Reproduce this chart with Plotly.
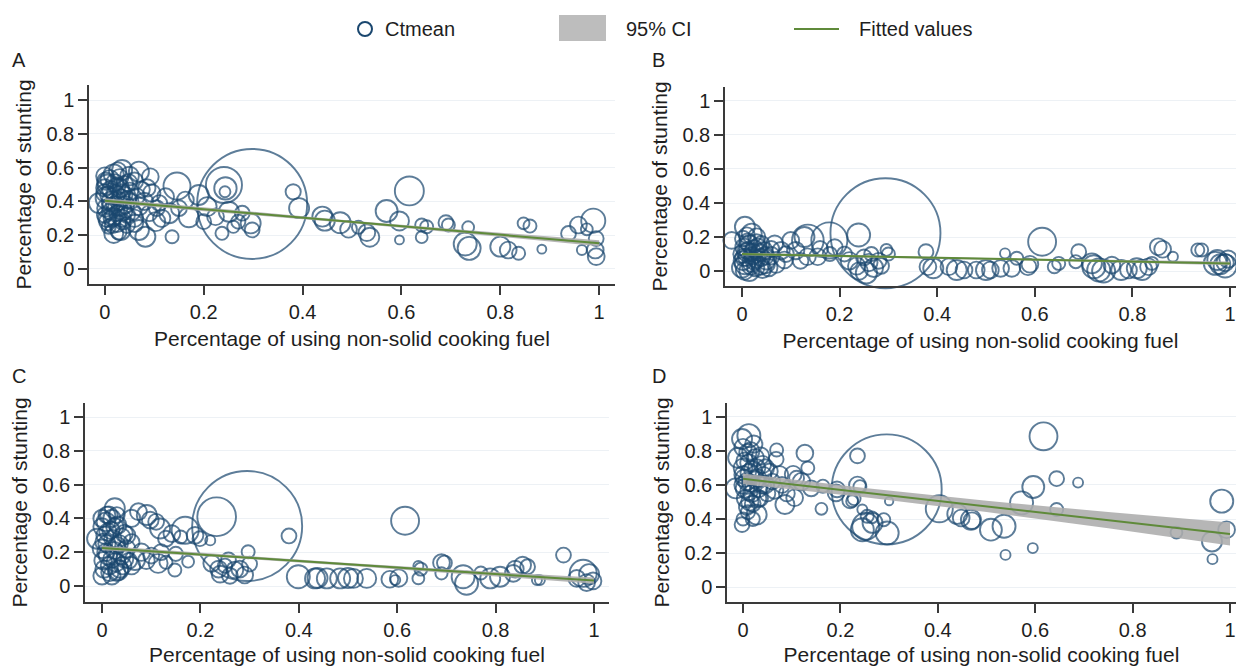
import plotly.graph_objects as go

W, H = 1236, 666

# ---------------- data ----------------
tick_vals = [0, 0.2, 0.4, 0.6, 0.8, 1]
tick_text = ["0", "0.2", "0.4", "0.6", "0.8", "1"]
panel_labels = ["A", "B", "C", "D"]
x_title = "Percentage of using non-solid cooking fuel"
y_title = "Percentage of stunting"
legend_labels = ["Ctmean", "95% CI", "Fitted values"]

# Panel A
A_x = [0.298, 0.241, 0.244, 0.243, 0.381, 0.393, 0.44,
       0.616, 0.570, 0.596, 0.596, 0.641, 0.641, 0.690, 0.695, 0.735, 0.729, 0.737, 0.80, 0.816,
       0.837, 0.847, 0.86, 0.884, 0.988, 0.958, 0.938, 0.975, 0.994, 0.992, 0.994, 0.965, 0.445,
       0.476, 0.493, 0.53, 0.536, 0.513, 0.651,
       0.146, 0.123, 0.092, 0.069, 0.035, 0.163, 0.19, 0.207, 0.17, 0.136, 0.13, 0.103, 0.069,
       0.082, 0.032, 0.018, 0.237, 0.224, 0.251, 0.278, 0.295, 0.298, 0.20, 0.085, 0.105, 0.06,
       0.15, 0.27, 0.26,
       -0.012, 0.0, 0.005, 0.0, 0.004, 0.002, 0.0, 0.006, 0.01, 0.012, 0.014, 0.01, 0.015, 0.018,
       0.02, 0.022, 0.02, 0.025, 0.025, 0.03, 0.03, 0.032, 0.03, 0.035, 0.04, 0.04, 0.042, 0.045,
       0.05, 0.05, 0.052, 0.055, 0.06, 0.065, 0.07, 0.075, 0.08, 0.09, 0.095, 0.11, 0.115, 0.008,
       0.028, 0.045, 0.06,
       0.0, 0.008, 0.012, 0.018, 0.024, 0.028, 0.034, 0.038, 0.046, 0.004, 0.016, 0.036, 0.002,
       0.026, 0.048]
A_y = [0.385, 0.497, 0.477, 0.457, 0.457, 0.36, 0.31,
       0.462, 0.343, 0.284, 0.172, 0.26, 0.188, 0.274, 0.26, 0.247, 0.148, 0.122, 0.132, 0.112,
       0.093, 0.27, 0.254, 0.117, 0.286, 0.26, 0.21, 0.235, 0.18, 0.112, 0.073, 0.112, 0.286,
       0.274, 0.235, 0.215, 0.188, 0.247, 0.25,
       0.491, 0.428, 0.546, 0.576, 0.586, 0.408, 0.438, 0.369, 0.306, 0.191, 0.33, 0.28, 0.231,
       0.191, 0.231, 0.21, 0.211, 0.309, 0.339, 0.33, 0.27, 0.231, 0.28, 0.48, 0.36, 0.3,
       0.36, 0.28, 0.25,
       0.39, 0.55, 0.50, 0.45, 0.42, 0.36, 0.32, 0.28, 0.53, 0.47, 0.40, 0.34, 0.30, 0.56,
       0.51, 0.44, 0.38, 0.33, 0.27, 0.54, 0.48, 0.42, 0.36, 0.30, 0.50, 0.44, 0.38, 0.32,
       0.55, 0.46, 0.40, 0.34, 0.52, 0.43, 0.37, 0.47, 0.40, 0.33, 0.45, 0.39, 0.30, 0.25,
       0.22, 0.26, 0.27,
       0.48, 0.44, 0.37, 0.31, 0.49, 0.40, 0.45, 0.34, 0.41, 0.30, 0.26, 0.28, 0.52,
       0.58, 0.51]
A_w = [121, 13, 5, 1.2, 2.3, 4, 4,
       8.4, 4.8, 3.6, 0.8, 1.7, 1.4, 2.2, 1.7, 1.4, 5.3, 5.3, 4, 2.8,
       1.7, 1.4, 1.7, 0.8, 5.8, 2.8, 2.2, 1.4, 2.2, 2.8, 2.8, 1, 4,
       4.4, 2.8, 2.8, 3.6, 1.7, 1.7,
       7.3, 2.8, 2.8, 4, 4, 2.8, 4, 3.6, 4, 1.7, 4, 3.6, 4,
       4, 4, 3.6, 1.7, 2.8, 4, 2.2, 4, 2.2, 2.2, 3, 2.5, 3,
       2.5, 2, 1.5,
       4, 3, 4, 3, 5, 3, 2.5, 3, 3.5, 3, 4, 2.5, 3, 4,
       3, 3.5, 3, 2.5, 3, 3, 3.5, 3, 2.5, 3, 3, 2.5, 3, 2.5,
       3.5, 3, 2.5, 3, 3, 2.5, 3, 2.5, 3, 2.5, 3, 2.5, 3, 2,
       2.5, 2.5, 3,
       3, 3, 3, 3, 3, 3, 3, 3, 3, 3, 2.5, 2.5, 3,
       3, 3]

# Panel B
B_x = [0.294, 0.239, 0.135, 0.179, 0.377, 0.381, 0.424, 0.296, 0.30,
       0.21, 0.22, 0.235, 0.25, 0.26, 0.27, 0.28, 0.24, 0.265, 0.255, 0.285,
       0.615, 0.69, 0.539, 0.64, 0.853, 0.883, 0.934, 0.974, 0.98, 0.99, 0.455, 0.48, 0.509,
       0.553, 0.586, 0.563, 0.684, 0.721, 0.731, 0.758, 0.792, 0.82, 0.84, 0.392, 0.44, 0.50,
       0.53, 0.59, 0.649, 0.717, 0.741, 0.777, 0.809, 0.833, 0.862, 0.942, 0.97, 0.99, 0.996,
       0.006, -0.021, 0.067, 0.10, 0.128, 0.134, 0.155, 0.047, 0.087, 0.02, 0.03, 0.04, 0.08,
       0.11, 0.12, 0.16, 0.18, 0.19, 0.06, 0.09,
       0.0, 0.002, 0.0, 0.004, 0.006, 0.01, 0.012, 0.015, 0.015, 0.02, 0.022, 0.025, 0.028,
       0.03, 0.035, 0.038, 0.04, 0.045, 0.05, 0.055, 0.002, 0.01, 0.03, 0.06, 0.07,
       0.005, 0.008, 0.018, 0.025, 0.032, 0.042, 0.048, 0.012, 0.004, 0.022]
B_y = [0.222, 0.212, 0.18, 0.18, 0.114, 0.025, 0.025, 0.124, 0.10,
       0.10, 0.06, 0.03, 0.08, 0.05, 0.02, 0.06, 0.0, 0.10, -0.01, 0.03,
       0.172, 0.114, 0.104, 0.025, 0.143, 0.084, 0.124, 0.065, 0.04, 0.05, 0.006, 0.006, 0.006,
       0.016, 0.025, 0.075, 0.055, 0.025, 0.006, 0.035, 0.006, 0.006, 0.045, 0.016, 0.006, 0.006,
       0.016, 0.04, 0.045, 0.045, 0.0, 0.006, 0.016, 0.025, 0.128, 0.124, 0.045, 0.03, 0.07,
       0.26, 0.18, 0.16, 0.18, 0.2, 0.084, 0.084, 0.045, 0.065, 0.22, 0.20, 0.16, 0.12,
       0.12, 0.06, 0.13, 0.10, 0.14, 0.09, 0.10,
       0.02, 0.06, 0.10, 0.14, 0.04, 0.08, 0.12, 0.16, 0.0, 0.05, 0.09, 0.13, 0.02,
       0.07, 0.11, 0.03, 0.08, 0.12, 0.06, 0.02, 0.19, 0.21, 0.17, 0.13, 0.04,
       0.0, 0.11, 0.03, 0.06, 0.14, 0.01, 0.09, 0.17, 0.08, 0.11]
B_w = [121, 5.3, 10, 13, 2.2, 2.8, 2.8, 1.4, 1.7,
       2.2, 3, 3, 2.5, 3, 3.5, 2.5, 3, 2, 4.5, 2.5,
       7.8, 2.2, 1, 1.7, 2.8, 1, 1.7, 4, 4, 3, 2.8, 2.8, 2.8,
       2.8, 2.8, 1.7, 1.7, 5.3, 5.3, 2.8, 2.8, 4, 1.7, 4, 4, 4,
       2.8, 2.8, 1.7, 4, 5.3, 4, 4, 2.8, 2.8, 1.7, 5.3, 5.3, 3,
       4, 2.8, 2.8, 2.8, 4, 2.8, 2.8, 4, 2.8, 4, 3, 2.5, 3,
       3, 2.5, 2.5, 2, 2.5, 3, 2.5,
       4, 3.5, 3, 3, 4, 3, 3, 3, 4, 3.5, 3, 3, 3,
       3, 3, 3, 3, 3, 3, 3, 2.5, 2.5, 2.5, 2.5, 3,
       3, 3, 3, 3, 3, 3, 3, 3, 3, 3]

# Panel C
C_x = [0.295, 0.233, 0.38, 0.399, 0.433,
       0.223, 0.237, 0.257, 0.27, 0.28, 0.297, 0.30, 0.29, 0.24, 0.25, 0.26,
       0.026, 0.01, 0.074, 0.091, 0.098, 0.118, 0.142, 0.169, 0.16, 0.189, 0.199, 0.22, 0.06,
       0.11, 0.13, 0.05,
       0.067, 0.09, 0.114, 0.13, 0.148, 0.175, 0.033, 0.08, 0.10, 0.12, 0.15, 0.06,
       -0.01, 0.0, 0.0, 0.002, 0.004, 0.006, 0.008, 0.01, 0.012, 0.015, 0.018, 0.02, 0.022,
       0.025, 0.028, 0.03, 0.032, 0.035, 0.04, 0.042, 0.045, 0.05, 0.055, 0.06, 0.0, 0.02, 0.03,
       0.616, 0.938, 0.69, 0.643, 0.643, 0.855, 0.884, 0.836, 0.809, 0.789, 0.734, 0.741, 0.77,
       0.978, 0.99, 0.965, 0.985, 0.998, 0.457, 0.484, 0.511, 0.538, 0.585, 0.596, 0.438, 0.50,
       0.603, 0.648, 0.696, 0.69, 0.84, 0.865, 0.89,
       0.004, 0.008, 0.012, 0.016, 0.02, 0.026, 0.03, 0.036, 0.04, 0.046, 0.0, 0.014]
C_y = [0.355, 0.41, 0.296, 0.055, 0.045,
       0.134, 0.10, 0.154, 0.095, 0.10, 0.203, 0.13, 0.065, 0.07, 0.12, 0.06,
       0.46, 0.42, 0.44, 0.42, 0.39, 0.34, 0.31, 0.33, 0.29, 0.30, 0.28, 0.27, 0.40,
       0.38, 0.28, 0.30,
       0.154, 0.15, 0.134, 0.14, 0.095, 0.144, 0.095, 0.2, 0.18, 0.2, 0.19, 0.12,
       0.28, 0.35, 0.22, 0.15, 0.10, 0.30, 0.38, 0.25, 0.18, 0.12, 0.33, 0.40, 0.28,
       0.21, 0.14, 0.08, 0.36, 0.25, 0.18, 0.12, 0.31, 0.22, 0.15, 0.26, 0.06, 0.06, 0.42,
       0.386, 0.183, 0.138, 0.118, 0.045, 0.124, 0.035, 0.075, 0.055, 0.045, 0.055, 0.016, 0.077,
       0.075, 0.07, 0.045, 0.02, 0.03, 0.045, 0.045, 0.045, 0.045, 0.04, 0.035, 0.047, 0.047,
       0.047, 0.10, 0.136, 0.075, 0.10, 0.114, 0.035,
       0.26, 0.20, 0.32, 0.08, 0.16, 0.35, 0.24, 0.10, 0.29, 0.16, 0.40, 0.42]
C_w = [121, 15, 2.2, 5.3, 4,
       2.8, 2.8, 2.2, 2.8, 2.8, 1.7, 2.2, 2.8, 2.8, 2, 2.5,
       4, 2.8, 2.8, 4, 2.8, 4, 2.8, 7.3, 1.7, 2.8, 2.2, 1, 3,
       2.5, 2.5, 3,
       4, 2.8, 3.6, 1.7, 1.7, 1.4, 4, 3, 2.5, 2.5, 2, 3,
       4, 3, 3.5, 3, 3, 3, 3.5, 3, 3.5, 3, 3, 3, 3,
       3, 3.5, 3, 3, 3, 3, 3, 3, 3, 2.5, 2.5, 3, 3, 2.5,
       7.8, 2.2, 2.8, 1, 1.4, 2.8, 1, 2.8, 4, 4, 5.3, 5.3, 1.7,
       7.3, 4, 2.8, 2.8, 2.8, 4, 4, 3.6, 3.6, 2.8, 1, 4, 4,
       3, 1.7, 2.2, 1.5, 2.8, 2.2, 1,
       3, 3, 3, 3, 3, 3, 3, 3, 3, 3, 3, 3]

# Panel D
D_x = [0.295, 0.235, 0.235, 0.24, 0.224, 0.228, 0.245, 0.255, 0.265, 0.252, 0.266, 0.245,
       0.296, 0.289, 0.30,
       0.403, 0.164, 0.161, 0.191, 0.127, 0.133, 0.069, 0.068, 0.103, 0.11, 0.086, 0.106,
       0.028, -0.002, 0.0, 0.012, -0.002,
       -0.01, 0.0, 0.0, 0.002, 0.004, 0.005, 0.008, 0.01, 0.012, 0.014, 0.016, 0.018, 0.02,
       0.022, 0.025, 0.028, 0.03, 0.032, 0.035, 0.04, 0.042, 0.045, 0.05, 0.055, 0.06, 0.065,
       0.075, 0.08, 0.09, 0.12, 0.14, 0.01, 0.02, 0.0, -0.015, 0.193, 0.22,
       0.617, 0.596, 0.572, 0.644, 0.688, 0.644, 0.595, 0.539, 0.468, 0.448, 0.509, 0.536,
       0.983, 0.963, 0.964, 0.993, 0.89, 0.44, 0.47,
       0.004, 0.008, 0.012, 0.016, 0.02, 0.026, 0.03, 0.036, 0.04, 0.046, 0.0, 0.014]
D_y = [0.574, 0.771, 0.6, 0.59, 0.505, 0.52, 0.456, 0.416, 0.41, 0.357, 0.377, 0.337,
       0.318, 0.396, 0.505,
       0.46, 0.593, 0.46, 0.554, 0.787, 0.70, 0.806, 0.751, 0.663, 0.64, 0.485, 0.525,
       0.426, 0.367, 0.40, 0.89, 0.87,
       0.76, 0.82, 0.70, 0.64, 0.58, 0.52, 0.47, 0.79, 0.73, 0.67, 0.61, 0.55, 0.49,
       0.84, 0.76, 0.70, 0.64, 0.58, 0.52, 0.72, 0.66, 0.60, 0.55, 0.68, 0.62, 0.57,
       0.66, 0.60, 0.55, 0.62, 0.58, 0.44, 0.40, 0.60, 0.58, 0.574, 0.51,
       0.886, 0.588, 0.495, 0.637, 0.614, 0.456, 0.229, 0.189, 0.396, 0.406, 0.337, 0.357,
       0.505, 0.268, 0.164, 0.337, 0.32, 0.43, 0.39,
       0.74, 0.62, 0.56, 0.80, 0.69, 0.63, 0.52, 0.77, 0.60, 0.70, 0.66, 0.50]
D_w = [121, 2.2, 2.8, 1.7, 1.4, 1.7, 1, 1.7, 1.4, 7.3, 4, 5.3,
       5.3, 1.7, 0.7,
       7.3, 1.7, 1.4, 2.8, 2.8, 1.7, 1.7, 2.2, 2.8, 2.2, 3.6, 2.8,
       4, 2.2, 1.7, 5.3, 4,
       4, 3, 3.5, 3, 3.5, 3, 2.5, 3, 3, 3.5, 3, 3, 2.5,
       3, 3, 3, 3, 3, 2.5, 3, 2.5, 3, 2.5, 2.5, 2.5, 3,
       3, 2.5, 2.5, 3, 2.5, 2, 2, 3, 4, 2.5, 2.5,
       7.8, 4.8, 5.3, 2.2, 1, 1.7, 1, 1, 4, 2.8, 4.8, 5.3,
       5.3, 4, 1, 2.8, 1.4, 4, 2.8,
       3, 3, 3, 3, 3, 3, 3, 3, 3, 3, 3, 3]

# Fitted values and 95% CI
fit_x = [0, 0.25, 0.5, 0.75, 1]
A_fit = [0.404, 0.341, 0.278, 0.215, 0.152]
A_lo = [0.390, 0.332, 0.270, 0.204, 0.134]
A_hi = [0.418, 0.350, 0.286, 0.226, 0.170]
B_fit = [0.100, 0.086, 0.072, 0.059, 0.045]
B_lo = [0.092, 0.081, 0.067, 0.052, 0.034]
B_hi = [0.108, 0.091, 0.077, 0.066, 0.056]
C_fit = [0.225, 0.177, 0.128, 0.080, 0.032]
C_lo = [0.212, 0.169, 0.120, 0.069, 0.014]
C_hi = [0.238, 0.185, 0.136, 0.091, 0.050]
D_fit = [0.636, 0.555, 0.474, 0.393, 0.312]
D_lo = [0.604, 0.528, 0.441, 0.345, 0.244]
D_hi = [0.668, 0.582, 0.507, 0.441, 0.380]

# ---------------- styles / layout ----------------
NAVY = "#1a476f"
GREEN = "#5f8a3a"
CI_FILL = "rgba(172,172,172,0.88)"
CI_LEG = "#bdbdbd"
AXC = "#3a3a3a"
TXT = "#1e1e1e"
FONT = "Liberation Sans, Arial, sans-serif"
FS = 20
FS_TITLE = 21

panels = [
    dict(x=A_x, y=A_y, w=A_w, fit=A_fit, lo=A_lo, hi=A_hi,
         xd=[89 / W, 615 / W], yd=[1 - 284 / H, 1 - 85 / H],
         xr=[-0.032, 1.032], yr=[-0.089, 1.089], lab=(10, 60)),
    dict(x=B_x, y=B_y, w=B_w, fit=B_fit, lo=B_lo, hi=B_hi,
         xd=[725 / W, 1.0], yd=[1 - 286 / H, 1 - 87 / H],
         xr=[-0.0348, 1.0123], yr=[-0.088, 1.082], lab=(650, 60)),
    dict(x=C_x, y=C_y, w=C_w, fit=C_fit, lo=C_lo, hi=C_hi,
         xd=[85 / W, 609 / W], yd=[1 - 602 / H, 1 - 403 / H],
         xr=[-0.0346, 1.0305], yr=[-0.0947, 1.083], lab=(10, 376)),
    dict(x=D_x, y=D_y, w=D_w, fit=D_fit, lo=D_lo, hi=D_hi,
         xd=[727 / W, 1.0], yd=[1 - 602 / H, 1 - 403 / H],
         xr=[-0.0329, 1.0123], yr=[-0.088, 1.082], lab=(650, 376)),
]

fig = go.Figure()
layout = dict(
    width=W, height=H, margin=dict(l=0, r=0, t=0, b=0),
    paper_bgcolor="white", plot_bgcolor="white",
    showlegend=False, font=dict(family=FONT, size=FS, color=TXT),
)
annotations = []
shapes = []

for i, p in enumerate(panels):
    n = "" if i == 0 else str(i + 1)
    xa, ya = "x" + n, "y" + n
    fig.add_trace(go.Scatter(
        x=p["x"], y=p["y"], mode="markers", xaxis=xa, yaxis=ya,
        name=legend_labels[0], cliponaxis=False,
        marker=dict(size=p["w"], sizemode="area", sizeref=0.02,
                    color="rgba(0,0,0,0)", line=dict(color=NAVY, width=1.9)),
    ))
    fig.add_trace(go.Scatter(
        x=fit_x, y=p["lo"], mode="lines", xaxis=xa, yaxis=ya,
        line=dict(width=0, color=CI_FILL), hoverinfo="skip",
    ))
    fig.add_trace(go.Scatter(
        x=fit_x, y=p["hi"], mode="lines", xaxis=xa, yaxis=ya, name=legend_labels[1],
        line=dict(width=0, color=CI_FILL), fill="tonexty", fillcolor=CI_FILL,
    ))
    fig.add_trace(go.Scatter(
        x=fit_x, y=p["fit"], mode="lines", xaxis=xa, yaxis=ya, name=legend_labels[2],
        line=dict(width=2, color=GREEN),
    ))
    common = dict(showline=True, linecolor=AXC, linewidth=1.5, ticks="outside",
                  ticklen=9, tickwidth=1.5, tickcolor=AXC, zeroline=False,
                  tickvals=tick_vals, ticktext=tick_text,
                  tickfont=dict(family=FONT, size=FS, color=TXT))
    layout["xaxis" + n] = dict(
        common, domain=p["xd"], range=p["xr"], anchor=ya, showgrid=False,
        title=dict(text=x_title, standoff=10, font=dict(family=FONT, size=FS_TITLE, color=TXT)),
    )
    layout["yaxis" + n] = dict(
        common, domain=p["yd"], range=p["yr"], anchor=xa, showgrid=True,
        gridcolor="#edf1f5", gridwidth=1,
        title=dict(text=y_title, standoff=9, font=dict(family=FONT, size=FS_TITLE, color=TXT)),
    )
    annotations.append(dict(
        text=panel_labels[i], x=p["lab"][0] / W, y=1 - p["lab"][1] / H,
        xref="paper", yref="paper", xanchor="left", yanchor="middle",
        showarrow=False, font=dict(family=FONT, size=FS, color=TXT),
    ))

# legend (drawn in paper space)
def px(x):
    return x / W

def py(y):
    return 1 - y / H

shapes.append(dict(type="circle", xref="paper", yref="paper",
                   x0=px(358), x1=px(372), y0=py(36), y1=py(22),
                   line=dict(color=NAVY, width=2), fillcolor="rgba(0,0,0,0)"))
shapes.append(dict(type="rect", xref="paper", yref="paper",
                   x0=px(559), x1=px(606), y0=py(41), y1=py(15),
                   line=dict(width=0), fillcolor=CI_LEG))
shapes.append(dict(type="line", xref="paper", yref="paper",
                   x0=px(794), x1=px(839), y0=py(29), y1=py(29),
                   line=dict(color=GREEN, width=2)))
for label, xl in zip(legend_labels, [383, 624, 857]):
    annotations.append(dict(text=label, x=px(xl), y=py(28.5), xref="paper", yref="paper",
                            xanchor="left", yanchor="middle", showarrow=False,
                            font=dict(family=FONT, size=FS, color=TXT)))

layout["annotations"] = annotations
layout["shapes"] = shapes
fig.update_layout(**layout)
fig.write_html("out.html")
